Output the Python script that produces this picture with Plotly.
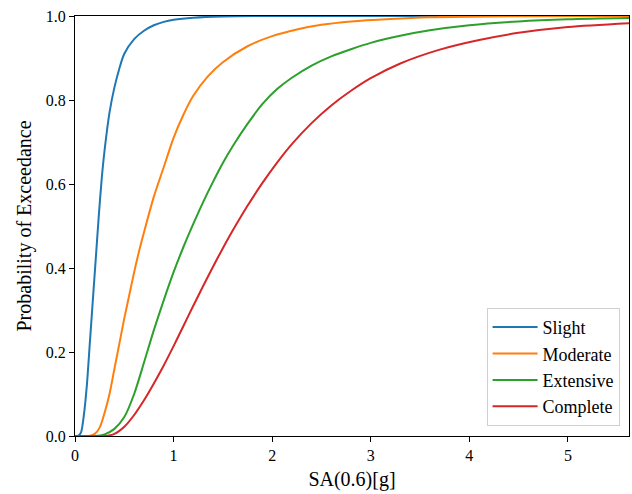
import plotly.graph_objects as go

# Fragility curves: spectral acceleration SA(0.6) [g] vs probability of exceedance
slight_sa = [0.0, 0.03, 0.06, 0.09, 0.12, 0.15, 0.18, 0.21, 0.24, 0.27, 0.30, 0.35, 0.40,
             0.45, 0.50, 0.60, 0.70, 0.80, 0.90, 1.00, 1.20, 1.50, 2.00, 5.62]
slight_p = [0.0, 0.0, 0.008, 0.05, 0.12, 0.22, 0.32, 0.42, 0.52, 0.61, 0.68, 0.77, 0.83,
            0.875, 0.91, 0.945, 0.965, 0.978, 0.986, 0.991, 0.996, 0.999, 1.0, 1.0]

moderate_sa = [0.0, 0.14, 0.20, 0.25, 0.30, 0.35, 0.40, 0.45, 0.50, 0.55, 0.60, 0.65, 0.70,
               0.80, 0.90, 1.00, 1.10, 1.20, 1.35, 1.50, 1.75, 2.00, 2.25, 2.50, 2.80,
               3.20, 3.60, 4.20, 5.62]
moderate_p = [0.0, 0.0, 0.005, 0.02, 0.055, 0.10, 0.16, 0.22, 0.28, 0.335, 0.39, 0.44, 0.485,
              0.57, 0.64, 0.71, 0.765, 0.81, 0.857, 0.89, 0.928, 0.952, 0.968, 0.979, 0.987,
              0.993, 0.997, 0.999, 1.0]

extensive_sa = [0.0, 0.20, 0.30, 0.40, 0.50, 0.60, 0.70, 0.80, 0.90, 1.00, 1.10, 1.20, 1.30,
                1.40, 1.50, 1.60, 1.75, 1.90, 2.05, 2.20, 2.40, 2.60, 2.80, 3.00, 3.30,
                3.60, 4.00, 4.50, 5.00, 5.62]
extensive_p = [0.0, 0.0, 0.004, 0.017, 0.045, 0.10, 0.175, 0.252, 0.323, 0.39, 0.45, 0.505, 0.557,
               0.605, 0.65, 0.69, 0.743, 0.79, 0.826, 0.853, 0.882, 0.904, 0.921, 0.936, 0.953,
               0.966, 0.978, 0.987, 0.992, 0.995]

complete_sa = [0.0, 0.30, 0.40, 0.50, 0.60, 0.70, 0.80, 0.90, 1.00, 1.10, 1.20, 1.30, 1.40,
               1.50, 1.60, 1.75, 1.90, 2.05, 2.20, 2.40, 2.60, 2.80, 3.00, 3.30, 3.70,
               4.10, 4.50, 5.00, 5.62]
complete_p = [0.0, 0.0, 0.005, 0.022, 0.05, 0.085, 0.125, 0.168, 0.214, 0.262, 0.31, 0.357, 0.403,
              0.447, 0.489, 0.548, 0.602, 0.651, 0.695, 0.745, 0.787, 0.822, 0.852, 0.887, 0.92,
              0.943, 0.96, 0.974, 0.983]

series = [
    ("Slight", slight_sa, slight_p, "#1f77b4"),
    ("Moderate", moderate_sa, moderate_p, "#ff7f0e"),
    ("Extensive", extensive_sa, extensive_p, "#2ca02c"),
    ("Complete", complete_sa, complete_p, "#d62728"),
]

x_ticks = [0, 1, 2, 3, 4, 5]
y_ticks = [0.0, 0.2, 0.4, 0.6, 0.8, 1.0]
y_tick_labels = ["0.0", "0.2", "0.4", "0.6", "0.8", "1.0"]

FONT = "Times New Roman, Liberation Serif, serif"

fig = go.Figure()
for name, xs, ys, color in series:
    fig.add_trace(go.Scatter(
        x=xs, y=ys, mode="lines", name=name,
        line=dict(color=color, width=2, shape="spline", smoothing=0.8),
    ))

fig.update_layout(
    width=632, height=494,
    margin=dict(l=75, r=3, t=16, b=58),
    paper_bgcolor="white", plot_bgcolor="white",
    font=dict(family=FONT, color="black", size=16),
    showlegend=True,
    legend=dict(
        x=0.983, y=0.024, xanchor="right", yanchor="bottom",
        bgcolor="rgba(255,255,255,0.8)", bordercolor="#d0d0d0", borderwidth=1,
        font=dict(family=FONT, size=18, color="black"),
        itemwidth=45,
    ),
)

fig.update_xaxes(
    range=[0, 5.62], tickvals=x_ticks, showgrid=False, zeroline=False,
    showline=True, linecolor="black", linewidth=1, mirror=True,
    ticks="outside", ticklen=5, tickwidth=1, tickcolor="black",
    tickfont=dict(family=FONT, size=16, color="black"),
    title=dict(text="SA(0.6)[g]", font=dict(family=FONT, size=20), standoff=8),
)
fig.update_yaxes(
    range=[0, 1], tickvals=y_ticks, ticktext=y_tick_labels, showgrid=False, zeroline=False,
    showline=True, linecolor="black", linewidth=1, mirror=True,
    ticks="outside", ticklen=5, tickwidth=1, tickcolor="black",
    tickfont=dict(family=FONT, size=16, color="black"),
    title=dict(text="Probability of Exceedance", font=dict(family=FONT, size=20), standoff=8),
)

fig.write_html("out.html")
